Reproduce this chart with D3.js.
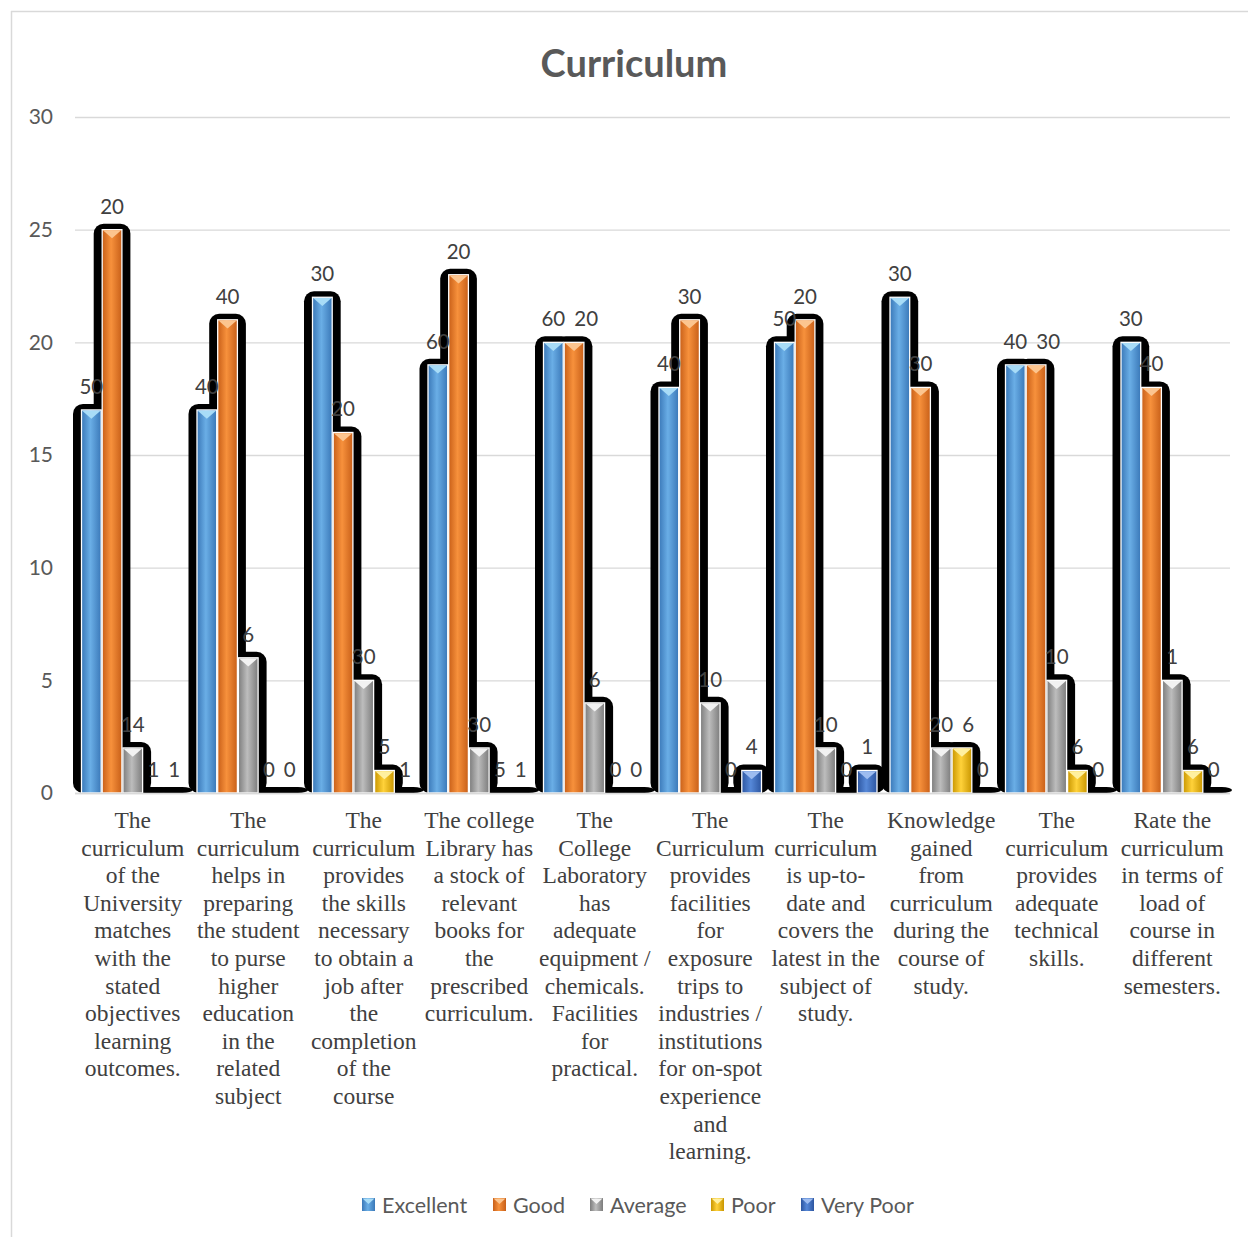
<!DOCTYPE html>
<html>
<head>
<meta charset="utf-8">
<script src="https://cdn.jsdelivr.net/npm/d3@7"></script>
<style>
  html, body { margin: 0; padding: 0; background: #fff; }
  svg { display: block; }
  .cat text { font-family: "Liberation Serif", "Times New Roman", "DejaVu Serif", serif; }
</style>
</head>
<body>
<script>
// ---------- DATA ----------
const categoryLines = [
  ["The", "curriculum", "of the", "University", "matches", "with the", "stated", "objectives", "learning", "outcomes."],
  ["The", "curriculum", "helps in", "preparing", "the student", "to purse", "higher", "education", "in the", "related", "subject"],
  ["The", "curriculum", "provides", "the skills", "necessary", "to obtain a", "job after", "the", "completion", "of the", "course"],
  ["The college", "Library has", "a stock of", "relevant", "books for", "the", "prescribed", "curriculum."],
  ["The", "College", "Laboratory", "has", "adequate", "equipment /", "chemicals.", "Facilities", "for", "practical."],
  ["The", "Curriculum", "provides", "facilities", "for", "exposure", "trips to", "industries /", "institutions", "for on-spot", "experience", "and", "learning."],
  ["The", "curriculum", "is up-to-", "date and", "covers the", "latest in the", "subject of", "study."],
  ["Knowledge", "gained", "from", "curriculum", "during the", "course of", "study."],
  ["The", "curriculum", "provides", "adequate", "technical", "skills."],
  ["Rate the", "curriculum", "in terms of", "load of", "course in", "different", "semesters."]
];
const seriesNames = ["Excellent", "Good", "Average", "Poor", "Very Poor"];
const excellent = [17, 17, 22, 19, 20, 18, 20, 22, 19, 20];
const good      = [25, 21, 16, 23, 20, 21, 21, 18, 19, 18];
const average   = [2, 6, 5, 2, 4, 4, 2, 2, 5, 5];
const poor      = [0, 0, 1, 0, 0, 0, 0, 2, 1, 1];
const veryPoor  = [0, 0, 0, 0, 0, 1, 1, 0, 0, 0];
// data labels as shown on the chart
const excellentLabels = [50, 40, 30, 60, 60, 40, 50, 30, 40, 30];
const goodLabels      = [20, 40, 20, 20, 20, 30, 20, 30, 30, 40];
const averageLabels   = [14, 6, 30, 30, 6, 10, 10, 20, 10, 1];
const poorLabels      = [1, 0, 5, 5, 0, 0, 0, 6, 6, 6];
const veryPoorLabels  = [1, 0, 1, 1, 0, 4, 1, 0, 0, 0];
const yTicks = [0, 5, 10, 15, 20, 25, 30];
const titleText = "Curriculum";

const seriesValues = [excellent, good, average, poor, veryPoor];
const seriesLabels = [excellentLabels, goodLabels, averageLabels, poorLabels, veryPoorLabels];

// ---------- STYLE ----------
const colors = [
  { edge: "#3a78b8", mid: "#6aaee6", tip: "#a8dcf7" },
  { edge: "#c85f18", mid: "#f7913c", tip: "#fcc58f" },
  { edge: "#7c7c7c", mid: "#bdbdbd", tip: "#f2f2f2" },
  { edge: "#c99600", mid: "#ffd23a", tip: "#fff0a0" },
  { edge: "#2c55a0", mid: "#5688d8", tip: "#9dbcf0" }
];
const sansFont = "Lato, 'Open Sans', sans-serif";

const W = 1248, H = 1237;
const svg = d3.select("body").append("svg").attr("width", W).attr("height", H);

// border (top & left visible)
svg.append("line").attr("x1", 11).attr("x2", W).attr("y1", 11.5).attr("y2", 11.5)
  .attr("stroke", "#d9d9d9").attr("stroke-width", 1.5);
svg.append("line").attr("x1", 11.5).attr("x2", 11.5).attr("y1", 11).attr("y2", H)
  .attr("stroke", "#d9d9d9").attr("stroke-width", 1.5);

const defs = svg.append("defs");
colors.forEach((c, i) => {
  const g = defs.append("linearGradient").attr("id", "g" + i)
    .attr("x1", "0%").attr("x2", "100%").attr("y1", "0%").attr("y2", "0%");
  g.append("stop").attr("offset", "0%").attr("stop-color", c.edge);
  g.append("stop").attr("offset", "45%").attr("stop-color", c.mid);
  g.append("stop").attr("offset", "100%").attr("stop-color", c.edge);
});

const plotLeft = 75, plotRight = 1230, plotTop = 117, plotBottom = 793;

const x0 = d3.scaleBand().domain(d3.range(categoryLines.length)).range([plotLeft, plotRight]).padding(0);
const x1 = d3.scaleBand().domain(d3.range(seriesNames.length)).range([6, x0.bandwidth() - 6]).padding(0);
const y = d3.scaleLinear().domain([0, 30]).range([plotBottom, plotTop]);

// title
svg.append("text").attr("x", 634).attr("y", 77).attr("text-anchor", "middle")
  .attr("font-family", sansFont).attr("font-weight", "bold")
  .attr("font-size", 38).attr("fill", "#595959").text(titleText);

// gridlines
const grid = svg.append("g").attr("transform", `translate(${plotLeft},0)`)
  .call(d3.axisLeft(y).tickValues(yTicks).tickSize(-(plotRight - plotLeft)).tickFormat(""));
grid.select(".domain").remove();
grid.selectAll("line").attr("stroke", "#d9d9d9").attr("stroke-width", 1.4);

// y labels
const yAx = svg.append("g").attr("transform", `translate(${plotLeft},0)`)
  .call(d3.axisLeft(y).tickValues(yTicks).tickSize(0).tickPadding(22));
yAx.select(".domain").remove();
yAx.attr("font-family", sansFont);
yAx.selectAll("text").attr("font-size", 21).attr("fill", "#595959");

// flatten data
const bars = [];
categoryLines.forEach((_, ci) => {
  seriesNames.forEach((s, si) => {
    bars.push({ ci, si, v: seriesValues[si][ci], label: seriesLabels[si][ci] });
  });
});

const bw = x1.bandwidth();
// shadows
svg.append("g").selectAll("rect").data(bars).join("rect")
  .attr("x", d => x0(d.ci) + x1(d.si) - 8)
  .attr("width", bw + 16)
  .attr("y", d => y(d.v) - 6)
  .attr("height", d => y(0) - y(d.v) + 6)
  .attr("rx", 10).attr("ry", 10)
  .attr("fill", "#000");

// bars
const barG = svg.append("g");
barG.selectAll("rect").data(bars.filter(d => d.v > 0)).join("rect")
  .attr("x", d => x0(d.ci) + x1(d.si) + 0.5)
  .attr("width", bw - 1)
  .attr("y", d => y(d.v))
  .attr("height", d => y(0) - y(d.v))
  .attr("fill", d => `url(#g${d.si})`)
  .attr("stroke", "#fff").attr("stroke-width", 1.3);

// bevel tips
barG.selectAll("path").data(bars.filter(d => d.v > 0)).join("path")
  .attr("d", d => {
    const xl = x0(d.ci) + x1(d.si) + 1.2, xr = xl + bw - 2.4, yt = y(d.v) + 0.7;
    return `M${xl},${yt}L${xr},${yt}L${(xl + xr) / 2},${yt + 8}Z`;
  })
  .attr("fill", d => colors[d.si].tip);

// data labels
const labels = svg.append("g").attr("font-family", sansFont).selectAll("text").data(bars).join("text")
  .attr("x", d => x0(d.ci) + x1(d.si) + bw / 2)
  .attr("y", d => y(d.v) - 16)
  .attr("text-anchor", "middle")
  .attr("font-size", 20.5).attr("fill", "#404040")
  .text(d => d.label);

// simple collision avoidance: nudge a label right if it collides with the previous one in its group
const nodes = labels.nodes();
for (let i = 1; i < nodes.length; i++) {
  const a = d3.select(nodes[i - 1]).datum(), b = d3.select(nodes[i]).datum();
  if (a.ci !== b.ci) continue;
  const ba = nodes[i - 1].getBBox(), bb = nodes[i].getBBox();
  const vOverlap = Math.abs((ba.y + ba.height / 2) - (bb.y + bb.height / 2)) < 16;
  const gap = bb.x - (ba.x + ba.width);
  if (vOverlap && gap < 6) {
    const shift = 9 - gap;
    d3.select(nodes[i]).attr("x", +d3.select(nodes[i]).attr("x") + shift);
  }
}

// baseline
svg.append("line").attr("x1", plotLeft).attr("x2", plotRight).attr("y1", plotBottom + 0.5).attr("y2", plotBottom + 0.5)
  .attr("stroke", "#d9d9d9").attr("stroke-width", 1.4);

// category labels
const xAx = svg.append("g").attr("class", "cat").attr("transform", `translate(0,${plotBottom})`)
  .call(d3.axisBottom(x0).tickSize(0).tickFormat(""));
xAx.select(".domain").remove();
xAx.attr("font-family", null);
xAx.selectAll(".tick text").each(function (i) {
  const t = d3.select(this)
    .attr("font-size", 23.5).attr("fill", "#404040")
    .attr("text-anchor", "middle").attr("y", 0).attr("dy", null);
  categoryLines[i].forEach((line, li) => {
    t.append("tspan").attr("x", 0).attr("y", 35 + li * 27.6).text(line);
  });
});

// legend
const legendX = [362, 493, 590, 711, 801];
const lg = svg.append("g").attr("font-family", sansFont);
seriesNames.forEach((name, i) => {
  const g = lg.append("g").attr("transform", `translate(${legendX[i]},1198)`);
  g.append("rect").attr("width", 13).attr("height", 13).attr("fill", `url(#g${i})`);
  g.append("path").attr("d", "M0.5,0.5L12.5,0.5L6.5,6Z").attr("fill", colors[i].tip);
  g.append("text").attr("x", 20).attr("y", 14.5)
    .attr("font-size", 21.5).attr("fill", "#595959").text(name);
});
</script>
</body>
</html>
